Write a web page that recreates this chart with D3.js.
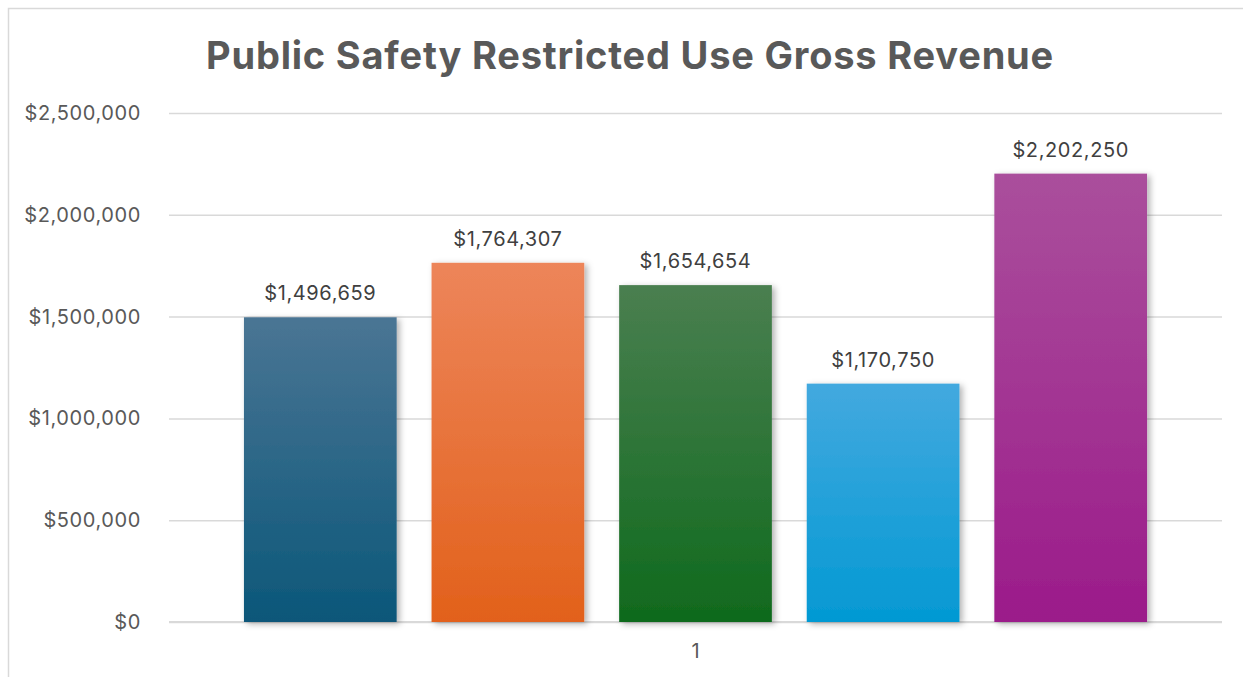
<!DOCTYPE html>
<html>
<head>
<meta charset="utf-8">
<script src="https://cdn.jsdelivr.net/npm/d3@7"></script>
<style>
  html, body { margin: 0; padding: 0; background: #fff; }
  svg { display: block; font-family: Inter, "Open Sans", sans-serif; }
</style>
</head>
<body>
<svg id="chart"></svg>
<script>
const categories = ["1"];
const seriesNames = ["S1", "S2", "S3", "S4", "S5"];
const seriesValues = [1496659, 1764307, 1654654, 1170750, 2202250];
const yTicks = [0, 500000, 1000000, 1500000, 2000000, 2500000];
const gradients = [
  ["#4a7594", "#0b5779"],
  ["#ed855a", "#e2611b"],
  ["#4a7f50", "#0f6a1d"],
  ["#43a9df", "#0399d3"],
  ["#aa4f9c", "#9b1b8a"]
];

const width = 1243;
const height = 677;
const plot = { left: 169, right: 1222, top: 113, bottom: 622 };

const svg = d3.select("svg#chart")
    .attr("width", width)
    .attr("height", height);

// chart border
svg.append("rect")
    .attr("x", 8.5).attr("y", 8.5)
    .attr("width", width).attr("height", height)
    .attr("fill", "none")
    .attr("stroke", "#d9d9d9")
    .attr("stroke-width", 1.5);

const defs = svg.append("defs");

defs.selectAll("linearGradient")
    .data(gradients)
    .join("linearGradient")
    .attr("id", (d, i) => "grad" + i)
    .attr("x1", 0).attr("y1", 0).attr("x2", 0).attr("y2", 1)
    .selectAll("stop")
    .data(d => d)
    .join("stop")
    .attr("offset", (d, i) => i === 0 ? "0%" : "100%")
    .attr("stop-color", d => d);

const shadow = defs.append("filter")
    .attr("id", "shadow")
    .attr("x", "-10%").attr("y", "-10%")
    .attr("width", "130%").attr("height", "130%");
shadow.append("feDropShadow")
    .attr("dx", 3).attr("dy", 2)
    .attr("stdDeviation", 3)
    .attr("flood-color", "#000")
    .attr("flood-opacity", 0.3);

// title
svg.append("text")
    .attr("x", 630)
    .attr("y", 69)
    .attr("text-anchor", "middle")
    .attr("font-size", 38)
    .attr("font-weight", "bold")
    .attr("letter-spacing", 0.8)
    .attr("fill", "#595959")
    .text("Public Safety Restricted Use Gross Revenue");

const y = d3.scaleLinear()
    .domain([0, 2500000])
    .range([plot.bottom, plot.top]);

const x0 = d3.scaleBand()
    .domain(categories)
    .range([plot.left, plot.right])
    .paddingInner(0)
    .paddingOuter(0.083);

const x1 = d3.scaleBand()
    .domain(seriesNames)
    .range([0, x0.bandwidth()])
    .paddingInner(0.186)
    .paddingOuter(0);

const fmt = v => "$" + d3.format(",")(v);

// y axis with gridlines
const yAxis = d3.axisLeft(y)
    .tickValues(yTicks)
    .tickSize(-(plot.right - plot.left))
    .tickPadding(28)
    .tickFormat(fmt);

const gy = svg.append("g")
    .attr("transform", `translate(${plot.left},0)`)
    .call(yAxis);
gy.select(".domain").remove();
gy.selectAll(".tick line")
    .attr("stroke", "#d9d9d9")
    .attr("stroke-width", 1.5);
gy.selectAll(".tick text")
    .attr("fill", "#595959")
    .attr("font-size", 20)
    .attr("letter-spacing", 0.6)
    .attr("font-family", "Inter, sans-serif");

// x axis
const xAxis = d3.axisBottom(x0).tickSize(0).tickPadding(22);
const gx = svg.append("g")
    .attr("transform", `translate(0,${plot.bottom})`)
    .call(xAxis);
gx.select(".domain")
    .attr("stroke", "#d9d9d9")
    .attr("stroke-width", 2)
    .attr("d", `M${plot.left},0H${plot.right}`);
gx.selectAll(".tick text")
    .attr("fill", "#595959")
    .attr("font-size", 20)
    .attr("font-family", "Inter, sans-serif");

// bars
const group = svg.append("g")
    .attr("transform", `translate(${x0(categories[0])},0)`);

group.selectAll("rect")
    .data(seriesValues)
    .join("rect")
    .attr("x", (d, i) => x1(seriesNames[i]))
    .attr("y", d => y(d))
    .attr("width", x1.bandwidth())
    .attr("height", d => y(0) - y(d))
    .attr("fill", (d, i) => `url(#grad${i})`)
    .attr("filter", "url(#shadow)");

group.selectAll("text")
    .data(seriesValues)
    .join("text")
    .attr("x", (d, i) => x1(seriesNames[i]) + x1.bandwidth() / 2)
    .attr("y", d => y(d) - 17)
    .attr("text-anchor", "middle")
    .attr("font-size", 20)
    .attr("letter-spacing", 0.6)
    .attr("fill", "#404040")
    .text(fmt);
</script>
</body>
</html>
